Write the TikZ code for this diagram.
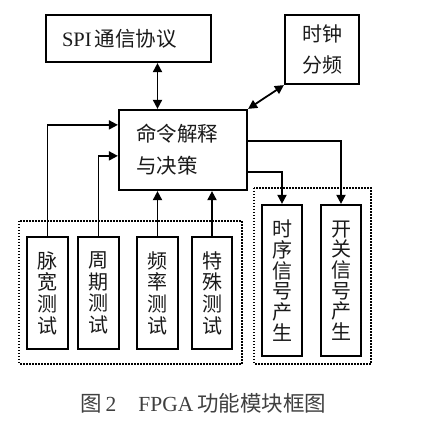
\documentclass[tikz,border=0pt]{standalone}
\usepackage{fontspec}
\setmainfont{Liberation Serif}
\newfontfamily\cjk{Noto Sans CJK SC}
\usetikzlibrary{arrows.meta}
\definecolor{ink}{HTML}{1A1A1A}
\begin{document}
\begin{tikzpicture}[x=1pt,y=-1pt,
  box/.style={draw=black,line width=2.2pt,rectangle,inner sep=0pt,text=ink},
  vbox/.style={box,minimum width=41pt,align=center,font=\cjk\fontsize{20}{21.7}\selectfont},
  grp/.style={draw=black,line width=1.5pt,dash pattern=on 1.5pt off 1.5pt},
  conn/.style={line width=1.8pt,-{Triangle[length=9pt,width=9pt]}},
  bconn/.style={line width=1.8pt,{Triangle[length=9pt,width=9pt]}-{Triangle[length=9pt,width=9pt]}}]
\useasboundingbox[fill=white] (0,0) rectangle (432,430);
% dotted groups
\draw[grp] (19,221) rectangle (242,364);
\draw[grp] (254,188) rectangle (371,364);
% top boxes
\node[box,minimum width=165pt,minimum height=47pt,text width=133pt,align=left,inner xsep=16pt] (spi) at (128.5,38.5)
  {\fontsize{20.5}{24}\selectfont SPI\hspace{3pt}{\cjk 通信协议}};
\node[box,minimum width=74pt,minimum height=69pt,align=center,font=\cjk\fontsize{20}{31}\selectfont] (clk) at (322,49.5) {时钟\\分频};
\node[box,minimum width=128pt,minimum height=80pt,text width=94pt,inner xsep=17pt,align=left,font=\cjk\fontsize{20.5}{32}\selectfont] (cmd) at (183,150) {命令解释\\与决策};
% test boxes
\node[vbox,minimum height=112pt] (mk) at (47.5,293) {脉\\宽\\测\\试};
\node[vbox,minimum height=112pt] (zq) at (98.5,293) {周\\期\\测\\试};
\node[vbox,minimum height=112pt] (pl) at (157.5,293) {频\\率\\测\\试};
\node[vbox,minimum height=112pt,minimum width=40pt] (ts) at (212,293) {特\\殊\\测\\试};
% output boxes
\node[vbox,minimum height=151pt,minimum width=40pt,font=\cjk\fontsize{20}{20.7}\selectfont] (sx) at (282,280.5) {时\\序\\信\\号\\产\\生};
\node[vbox,minimum height=151pt,minimum width=40pt,font=\cjk\fontsize{20}{20.7}\selectfont] (kg) at (341,280.5) {开\\关\\信\\号\\产\\生};
% connectors
\draw[bconn] (pl.north |- spi.south) -- (pl.north |- cmd.north);
\draw[bconn] (clk.south west) -- (cmd.north east);
\draw[conn] (mk.north) |- ([yshift=-16pt]cmd.north west);
\draw[conn] (zq.north) |- ([yshift=-47pt]cmd.north west);
\draw[conn] (pl.north) -- (pl.north |- cmd.south);
\draw[conn] (ts.north) -- (ts.north |- cmd.south);
\draw[conn] ([yshift=-32pt]cmd.north east) -| (kg.north);
\draw[conn] ([yshift=-63pt]cmd.north east) -| (sx.north);
% caption
\node[anchor=west,inner sep=0pt,text=black!75,font=\fontsize{21.5}{25}\selectfont] (cap) at (80,403)
  {{\cjk 图}\hspace{4pt}2\hspace{22pt}FPGA\hspace{4pt}{\cjk 功能模块框图}};
\end{tikzpicture}
\end{document}
